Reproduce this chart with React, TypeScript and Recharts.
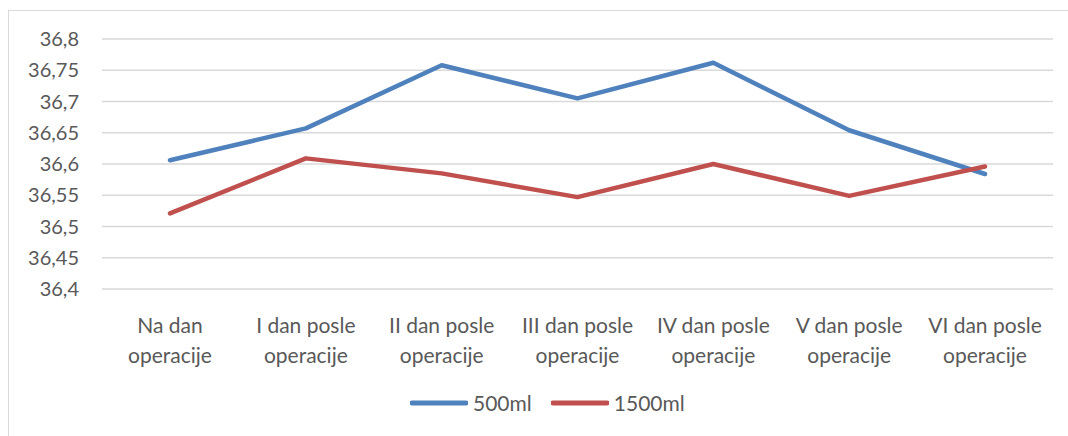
import { LineChart, Line, XAxis, YAxis, CartesianGrid, Legend } from 'recharts';

const days = [
  'Na dan operacije',
  'I dan posle operacije',
  'II dan posle operacije',
  'III dan posle operacije',
  'IV dan posle operacije',
  'V dan posle operacije',
  'VI dan posle operacije'
];
const seriesNames = ['500ml', '1500ml'];
const ml500 = [36.606, 36.657, 36.758, 36.705, 36.762, 36.654, 36.584];
const ml1500 = [36.521, 36.609, 36.585, 36.547, 36.6, 36.549, 36.596];
const yTicks = [36.4, 36.45, 36.5, 36.55, 36.6, 36.65, 36.7, 36.75, 36.8];

const data = days.map((day, i) => ({ day, a: ml500[i], b: ml1500[i] }));

const FONT = 'Lato, "Open Sans", sans-serif';
const TEXT = '#595959';

const DayTick = (props: any) => {
  const { x, y, payload } = props;
  const label: string = payload.value;
  const cut = label.lastIndexOf(' ');
  return (
    <text x={x} y={y} textAnchor="middle" fill={TEXT} fontSize={21} fontFamily={FONT}>
      <tspan x={x} y={y + 42}>{label.slice(0, cut)}</tspan>
      <tspan x={x} y={y + 72}>{label.slice(cut + 1)}</tspan>
    </text>
  );
};

const LegendBox = (props: any) => {
  const items = [...(props.payload || [])].sort(
    (p: any, q: any) => seriesNames.indexOf(p.value) - seriesNames.indexOf(q.value)
  );
  return (
    <div style={{ display: 'flex', paddingLeft: 410, fontFamily: FONT, fontSize: 21, color: TEXT }}>
      {items.map((p: any) => (
        <div key={p.value} style={{ display: 'flex', alignItems: 'center', marginRight: 19 }}>
          <svg width={58} height={10} style={{ marginRight: 5 }}>
            <line x1={2} y1={5} x2={56} y2={5} stroke={p.color} strokeWidth={5} strokeLinecap="round" />
          </svg>
          <span>{p.value}</span>
        </div>
      ))}
    </div>
  );
};

export default function App() {
  return (
    <div style={{ position: 'fixed', left: 0, top: 0, width: 1068, height: 436, background: '#fff' }}>
      <div
        style={{
          position: 'absolute',
          left: 8,
          top: 10,
          width: 1060,
          height: 426,
          borderTop: '1.5px solid #d9d9d9',
          borderLeft: '1.5px solid #d9d9d9'
        }}
      />
      <LineChart
        width={1068}
        height={436}
        data={data}
        margin={{ top: 39, right: 15, left: 0, bottom: 47 }}
        style={{ position: 'absolute', left: 0, top: 0 }}
      >
        <CartesianGrid vertical={false} stroke="#d9d9d9" strokeWidth={1.4} />
        <XAxis
          dataKey="day"
          axisLine={false}
          tickLine={false}
          tickSize={0}
          height={100}
          interval={0}
          padding={{ left: 68, right: 68 }}
          tick={<DayTick />}
        />
        <YAxis
          domain={[36.4, 36.8]}
          ticks={yTicks}
          width={102}
          axisLine={false}
          tickLine={false}
          tickSize={0}
          tickMargin={23}
          tick={{ fill: TEXT, fontSize: 20, fontFamily: FONT }}
          tickFormatter={(v: number) => String(v).replace('.', ',')}
        />
        <Legend
          verticalAlign="middle"
          align="center"
          layout="horizontal"
          content={<LegendBox />}
          wrapperStyle={{ top: 390, left: 0, width: 1068 }}
        />
        <Line
          type="linear"
          dataKey="a"
          name={seriesNames[0]}
          stroke="#4f81bd"
          strokeWidth={4.5}
          strokeLinecap="round"
          strokeLinejoin="round"
          dot={false}
          isAnimationActive={false}
        />
        <Line
          type="linear"
          dataKey="b"
          name={seriesNames[1]}
          stroke="#c0504d"
          strokeWidth={4.5}
          strokeLinecap="round"
          strokeLinejoin="round"
          dot={false}
          isAnimationActive={false}
        />
      </LineChart>
    </div>
  );
}
